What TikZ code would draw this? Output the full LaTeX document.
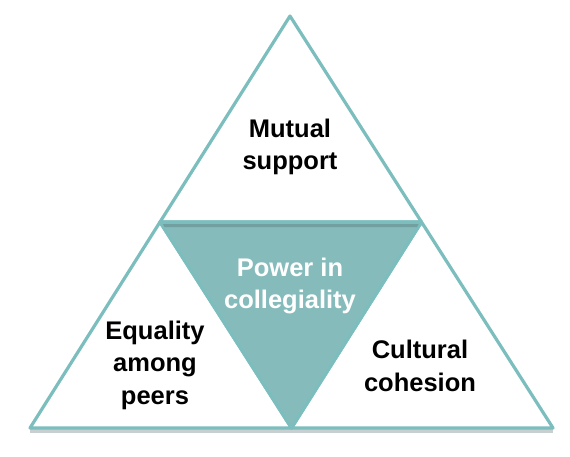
\documentclass[tikz,border=0pt]{standalone}
\usepackage{fontspec}
\setmainfont{Liberation Sans}
\usetikzlibrary{calc}
\definecolor{edge}{HTML}{7CBEBE}
\definecolor{fillteal}{HTML}{86BBBB}
\definecolor{shadowc}{HTML}{C8CFD0}
\begin{document}
\begin{tikzpicture}[x=1pt,y=-1pt,
  outer/.style={draw=edge,line width=3.2pt,line join=round,fill=white},
  inner/.style={draw=edge,line width=3.2pt,line join=round,fill=fillteal},
  shad/.style={draw=shadowc,line width=3.2pt,line join=round},
  lbl/.style={font=\fontsize{25.5}{32.5}\selectfont\bfseries,align=center,text=black},
  lblw/.style={font=\fontsize{25.5}{32.5}\selectfont\bfseries,align=center,text=white}]
\useasboundingbox (0,0) rectangle (570,456);
\coordinate (A) at (290,16);
\coordinate (L) at (30,428);
\coordinate (R) at (553,428);
\coordinate (ML) at (160,222);
\coordinate (MR) at (421.5,222);
\coordinate (MB) at (291.5,428);
% shadows
\draw[shad] ([yshift=-3pt]L) -- ([yshift=-3pt]R);
% outer triangles
\draw[outer] (A) -- (MR) -- (ML) -- cycle;
\draw[outer] (ML) -- (MB) -- (L) -- cycle;
\draw[outer] (MR) -- (R) -- (MB) -- cycle;
% inner triangle
\draw[inner] (ML) -- (MR) -- (MB) -- cycle;
\fill[fillteal!85!black] ($(ML)+(3,2)$) -- ($(MR)+(-3,2)$) -- ($(MR)+(-4.5,5)$) -- ($(ML)+(4.5,5)$) -- cycle;
\node[lbl] (top) at (290,147) {Mutual\\support};
\node[lblw] (mid) at (290,286) {Power in\\collegiality};
\node[lbl] (left) at (155,365) {Equality\\among\\peers};
\node[lbl] (right) at (420,366) {Cultural\\cohesion};
\end{tikzpicture}
\end{document}
